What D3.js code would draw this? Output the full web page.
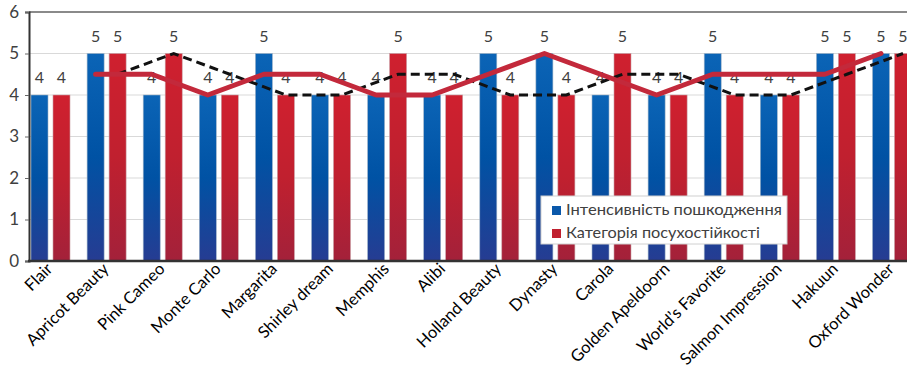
<!DOCTYPE html>
<html><head><meta charset="utf-8">
<script src="https://cdn.jsdelivr.net/npm/d3@7"></script>
<style>body{margin:0;background:#fff;overflow:hidden}svg{display:block}</style>
</head><body><svg id="c" width="907" height="372"></svg>
<script>
const categories = ["Flair","Apricot Beauty","Pink Cameo","Monte Carlo","Margarita","Shirley dream","Memphis","Alibi","Holland Beauty","Dynasty","Carola","Golden Apeldoorn","World’s Favorite","Salmon Impression","Hakuun","Oxford Wonder"];
const damage = [4,5,4,4,5,4,4,4,5,5,4,4,5,4,5,5];          // Інтенсивність пошкодження
const drought = [4,5,5,4,4,4,5,4,4,4,5,4,4,4,5,5];         // Категорія посухостійкості
// trend lines (2-period moving average), starting at the 2nd category
const damageTrend = [null,4.5,4.5,4,4.5,4.5,4,4,4.5,5,4.5,4,4.5,4.5,4.5,5];
const droughtTrend = [null,4.5,5,4.5,4,4,4.5,4.5,4,4,4.5,4.5,4,4,4.5,5];
const yTicks = [0,1,2,3,4,5,6];
const seriesNames = ["Інтенсивність пошкодження","Категорія посухостійкості"];

(function(){
const svg = d3.select("#c");
const font = "Lato, 'Open Sans', sans-serif";
const pLeft = 29, pTop = 12, pBottom = 261;
const x0 = d3.scaleBand().domain(categories).range([22.5, 22.5 + 56.1*16]);
const x1 = d3.scaleBand().domain(["a","b"]).range([8.5, 47.5]).paddingInner(0.227);
const y = d3.scaleLinear().domain([0,6]).range([pBottom, pTop]);

const defs = svg.append("defs");
function grad(id, stops){
  const g = defs.append("linearGradient").attr("id", id).attr("x1",0).attr("x2",0).attr("y1",0).attr("y2",1);
  stops.forEach(s => g.append("stop").attr("offset", s[0]).attr("stop-color", s[1]));
}
grad("gBlue", [[0,"#0b64b6"],[0.5,"#0052a4"],[1,"#263c92"]]);
grad("gRed", [[0,"#cf202f"],[0.5,"#c0202f"],[1,"#a3213a"]]);

// gridlines
svg.append("g").selectAll("line").data(yTicks.filter(t => t>0 && t<6)).join("line")
  .attr("x1", pLeft).attr("x2", 907).attr("y1", d=>y(d)).attr("y2", d=>y(d))
  .attr("stroke", "#d9d9d9").attr("stroke-width", 1);
// top border
svg.append("line").attr("x1", pLeft).attr("x2", 907).attr("y1", y(6)).attr("y2", y(6))
  .attr("stroke", "#8a8a8a").attr("stroke-width", 2);

// bars
const groups = svg.append("g").selectAll("g").data(categories).join("g")
  .attr("transform", d => `translate(${x0(d)},0)`);
groups.append("rect").attr("x", x1("a")).attr("width", x1.bandwidth())
  .attr("y", (d,i)=>y(damage[i])).attr("height", (d,i)=>pBottom - y(damage[i]))
  .attr("fill", "url(#gBlue)").attr("stroke", "#9fb4c8").attr("stroke-width", 0.6);
groups.append("rect").attr("x", x1("b")).attr("width", x1.bandwidth())
  .attr("y", (d,i)=>y(drought[i])).attr("height", (d,i)=>pBottom - y(drought[i]))
  .attr("fill", "url(#gRed)").attr("stroke", "#c9a0a6").attr("stroke-width", 0.6);

// data labels
groups.append("text").attr("x", x1("a") + x1.bandwidth()/2).attr("y", (d,i)=>y(damage[i]) - 12)
  .attr("text-anchor","middle").attr("font-family", font).attr("font-size", 16).attr("fill","#404040")
  .text((d,i)=>damage[i]);
groups.append("text").attr("x", x1("b") + x1.bandwidth()/2).attr("y", (d,i)=>y(drought[i]) - 12)
  .attr("text-anchor","middle").attr("font-family", font).attr("font-size", 16).attr("fill","#404040")
  .text((d,i)=>drought[i]);

// trend lines
const lineA = d3.line().defined(d => d[1] != null)
  .x(d => x0(d[0]) + x1("a") + x1.bandwidth()/2).y(d => y(d[1]));
const lineB = d3.line().defined(d => d[1] != null)
  .x(d => x0(d[0]) + x1("b") + x1.bandwidth()/2).y(d => y(d[1]));
svg.append("path").datum(categories.map((c,i)=>[c, droughtTrend[i]])).attr("d", lineB)
  .attr("fill","none").attr("stroke","#111").attr("stroke-width",3).attr("stroke-dasharray","9,5");
svg.append("path").datum(categories.map((c,i)=>[c, damageTrend[i]])).attr("d", lineA)
  .attr("fill","none").attr("stroke","#c3293b").attr("stroke-width",5).attr("stroke-linejoin","round").attr("stroke-linecap","round");

// y axis
const yAxis = svg.append("g").attr("transform", `translate(${pLeft},0)`)
  .call(d3.axisLeft(y).tickValues(yTicks).tickSize(4).tickPadding(6).tickFormat(d3.format("d")));
yAxis.select(".domain").attr("stroke","#333").attr("stroke-width",2);
yAxis.selectAll(".tick line").attr("stroke","#666");
yAxis.selectAll("text").attr("font-family", font).attr("font-size", 17).attr("fill","#404040");

// x axis
const xAxis = svg.append("g").attr("transform", `translate(0,${pBottom})`)
  .call(d3.axisBottom(x0).tickSize(0).tickPadding(0));
xAxis.select(".domain").remove();
svg.append("line").attr("x1", pLeft-1).attr("x2", 907).attr("y1", pBottom).attr("y2", pBottom)
  .attr("stroke","#333").attr("stroke-width",2.5);
xAxis.selectAll(".tick text")
  .attr("font-family", font).attr("font-size", 16.5).attr("fill","#000")
  .attr("text-anchor","end").attr("dy", 0).attr("y", 0)
  .attr("transform", "translate(3,9) rotate(-45)");

// legend
const lg = svg.append("g").attr("transform","translate(541,196)");
lg.append("rect").attr("width",246).attr("height",48).attr("fill","#fff").attr("stroke","#d0d0d0");
const colors = ["#0a58aa","#c0202f"];
const lens = [216, 194];
seriesNames.forEach((n,i)=>{
  lg.append("rect").attr("x",11).attr("y",10 + i*23).attr("width",9).attr("height",9).attr("fill",colors[i]);
  lg.append("text").attr("x",25).attr("y",19 + i*23).attr("font-family", font).attr("font-size",16)
    .attr("fill","#404040").attr("textLength", lens[i]).attr("lengthAdjust","spacingAndGlyphs").text(n);
});
})();
</script></body></html>
